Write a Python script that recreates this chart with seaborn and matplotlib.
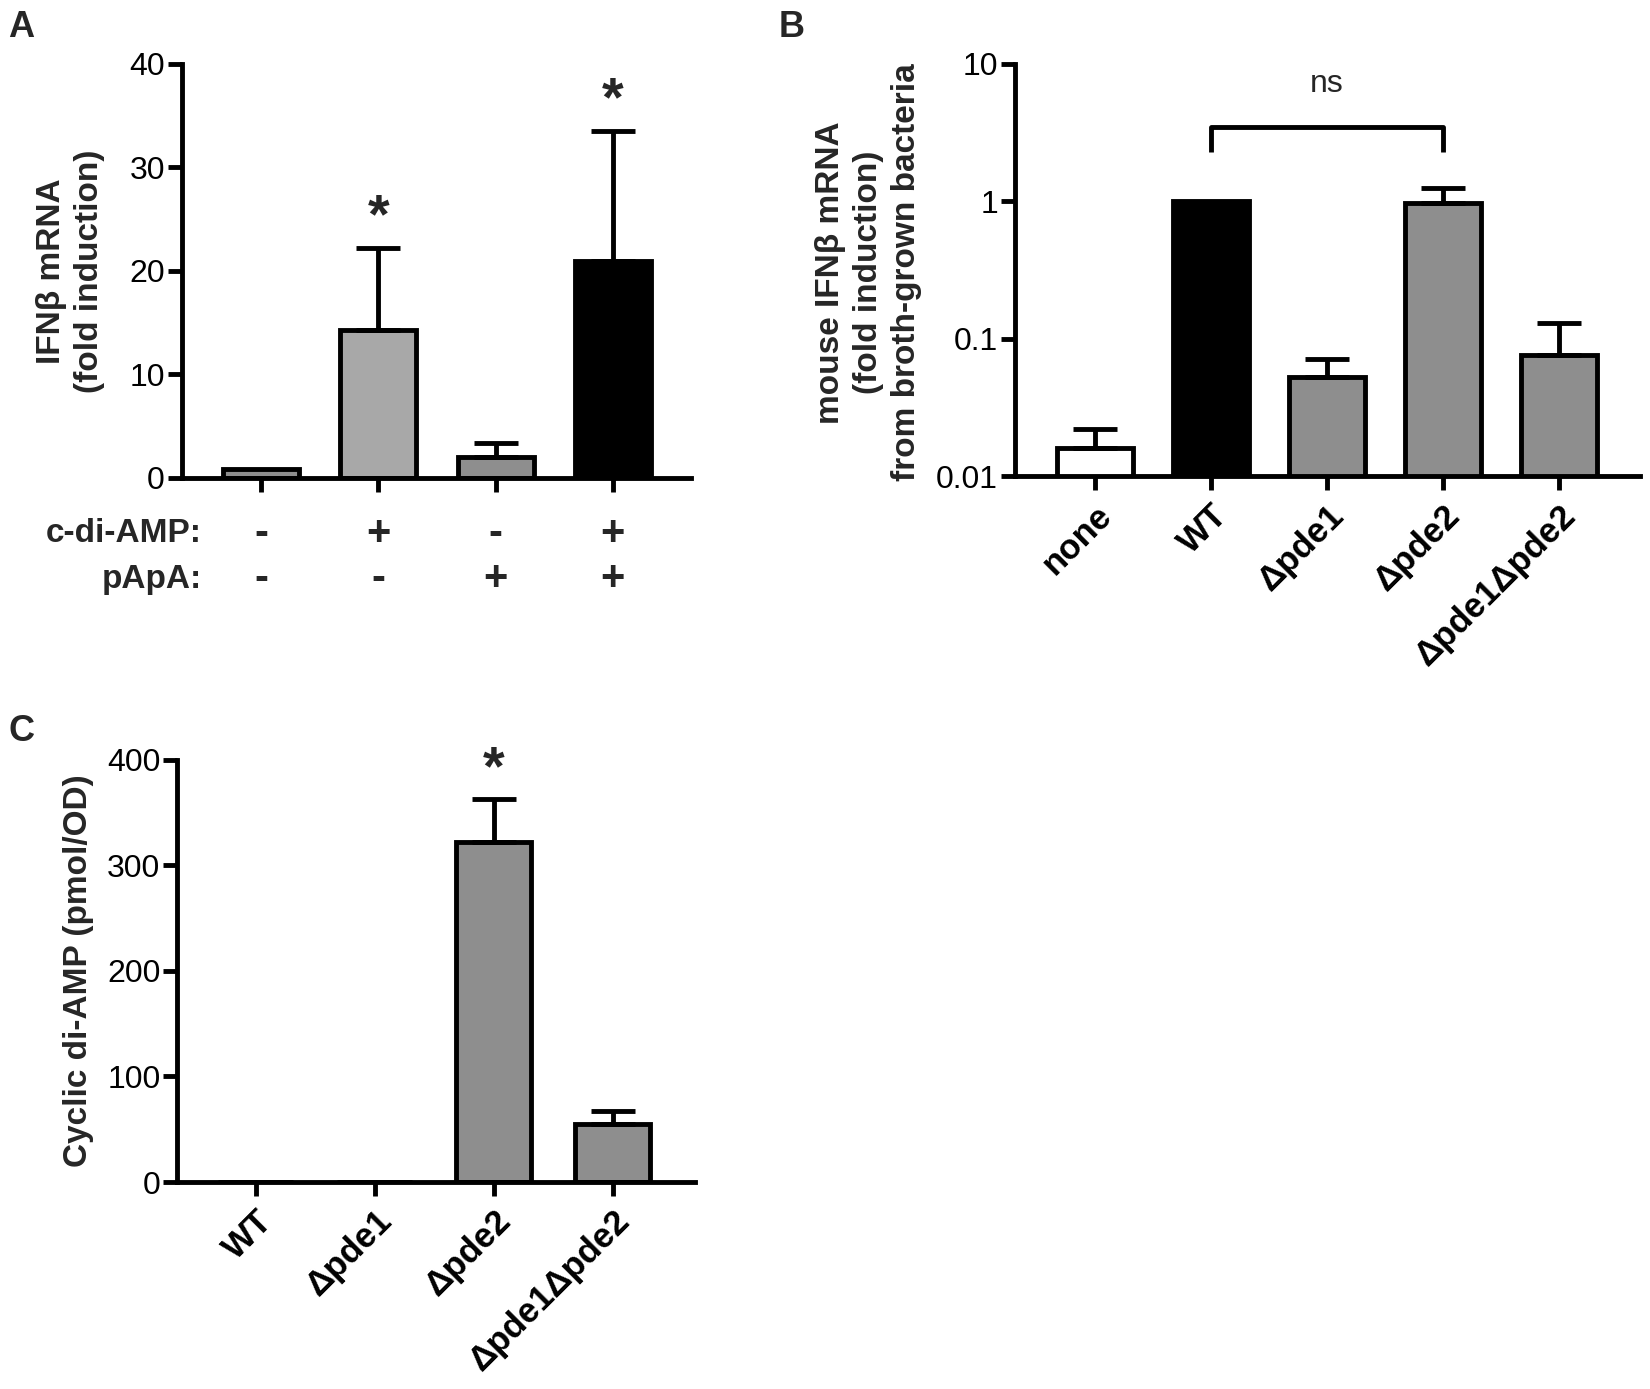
import numpy as np
import pandas as pd
import matplotlib
matplotlib.use("Agg")
import matplotlib.pyplot as plt
import matplotlib.transforms as mtransforms
import seaborn as sns

# ---------------- data ----------------
a_cats = ["g1", "g2", "g3", "g4"]
a_vals = [0.9, 14.3, 2.0, 21.0]
a_errs = [0.0, 7.9, 1.4, 12.5]
a_colors = ["#8e8e8e", "#a8a8a8", "#8e8e8e", "#000000"]
a_cdiamp = ["-", "+", "-", "+"]
a_papa = ["-", "-", "+", "+"]
a_star = [False, True, False, True]
a_yticks = [0, 10, 20, 30, 40]

b_cats = ["none", "WT", "Δpde1", "Δpde2", "Δpde1Δpde2"]
b_vals = [0.016, 1.0, 0.053, 0.98, 0.077]
b_errs = [0.006, 0.0, 0.018, 0.27, 0.053]
b_colors = ["#ffffff", "#000000", "#8e8e8e", "#8e8e8e", "#8e8e8e"]
b_yticks = [0.01, 0.1, 1, 10]
b_yticklabels = ["0.01", "0.1", "1", "10"]

c_cats = ["WT", "Δpde1", "Δpde2", "Δpde1Δpde2"]
c_vals = [0.0, 0.0, 322.0, 55.0]
c_errs = [0.0, 0.0, 41.0, 12.0]
c_colors = ["#8e8e8e", "#8e8e8e", "#8e8e8e", "#8e8e8e"]
c_star = [False, False, True, False]
c_yticks = [0, 100, 200, 300, 400]

# ---------------- style ----------------
sns.set_theme(style="ticks")
plt.rcParams["font.family"] = ["Liberation Sans", "DejaVu Sans"]
plt.rcParams["axes.linewidth"] = 3.5

LW = 3.5
FS_TICK = 23
FS_LAB = 24
FS_CAT = 25

fig = plt.figure(figsize=(16.5, 13.89), dpi=100)

def style_axes(ax):
    sns.despine(ax=ax)
    for s in ("left", "bottom"):
        ax.spines[s].set_linewidth(LW)
        ax.spines[s].set_color("black")
    ax.tick_params(axis="y", direction="out", length=10, width=LW, labelsize=FS_TICK,
                   pad=2, color="black", labelcolor="black")
    ax.tick_params(axis="x", direction="out", length=10, width=LW, labelsize=FS_TICK,
                   pad=6, color="black", labelcolor="black")
    ax.set_facecolor("white")

def draw_bars(ax, cats, vals, errs, colors, width):
    df = pd.DataFrame({"cat": cats, "val": vals})
    sns.barplot(data=df, x="cat", y="val", hue="cat", palette=colors, order=cats,
                hue_order=cats, width=width, edgecolor="black", linewidth=LW,
                legend=False, ax=ax, errorbar=None, saturation=1)
    pos = np.arange(len(cats))
    e = np.array(errs)
    mask = e > 0
    ax.errorbar(pos[mask], np.array(vals)[mask], yerr=[np.zeros(mask.sum()), e[mask]],
                fmt="none", ecolor="black", elinewidth=LW, capsize=16, capthick=LW, zorder=1)

# ---------------- Panel A ----------------
axA = fig.add_axes([0.110, 0.656, 0.309, 0.298])
style_axes(axA)
draw_bars(axA, a_cats, a_vals, a_errs, a_colors, 0.65)
axA.set_ylim(0, 40)
axA.set_yticks(a_yticks)
axA.set_xlim(-0.68, 3.67)
axA.set_xticks(range(len(a_cats)))
axA.set_xticklabels([""] * len(a_cats))
axA.set_xlabel("")
axA.set_ylabel("IFNβ mRNA\n(fold induction)", fontsize=FS_LAB, fontweight="bold",
               linespacing=1.3)
axA.yaxis.set_label_coords(-0.150, 0.50)
for i, (v, e, s) in enumerate(zip(a_vals, a_errs, a_star)):
    if s:
        axA.text(i, v + e + 0.4, "*", ha="center", va="bottom", fontsize=40,
                 fontweight="bold")
trA = mtransforms.blended_transform_factory(axA.transData, axA.transAxes)
for i, (c, p) in enumerate(zip(a_cdiamp, a_papa)):
    axA.text(i, -0.135, c, transform=trA, ha="center", va="center", fontsize=30,
             fontweight="bold")
    axA.text(i, -0.245, p, transform=trA, ha="center", va="center", fontsize=30,
             fontweight="bold")
axA.text(0.04, -0.135, "c-di-AMP:", transform=axA.transAxes, ha="right", va="center",
         fontsize=FS_LAB, fontweight="bold")
axA.text(0.04, -0.245, "pApA:", transform=axA.transAxes, ha="right", va="center",
         fontsize=FS_LAB, fontweight="bold")

# ---------------- Panel B ----------------
axB = fig.add_axes([0.615, 0.657, 0.379, 0.297])
axB.set_yscale("log")
style_axes(axB)
draw_bars(axB, b_cats, b_vals, b_errs, b_colors, 0.65)
axB.set_yscale("log")
axB.set_ylim(0.01, 10)
axB.set_yticks(b_yticks)
axB.set_yticklabels(b_yticklabels)
axB.minorticks_off()
axB.set_xlim(-0.69, 4.70)
axB.set_xticks(range(len(b_cats)))
axB.set_xticklabels(b_cats, rotation=45, ha="right", rotation_mode="anchor",
                    fontsize=FS_CAT, fontweight="bold")
axB.set_xlabel("")
axB.set_ylabel("mouse IFNβ mRNA\n(fold induction)\nfrom broth-grown bacteria",
               fontsize=FS_LAB, fontweight="bold", linespacing=1.3)
axB.yaxis.set_label_coords(-0.148, 0.495)
# ns bracket between WT and Δpde2
axB.plot([1, 1, 3, 3], [2.3, 3.5, 3.5, 2.3], color="black", lw=LW, clip_on=False,
         solid_capstyle="butt")
axB.text(2, 5.6, "ns", ha="center", va="bottom", fontsize=FS_TICK)

# ---------------- Panel C ----------------
axC = fig.add_axes([0.1073, 0.149, 0.314, 0.304])
style_axes(axC)
draw_bars(axC, c_cats, c_vals, c_errs, c_colors, 0.63)
axC.set_ylim(0, 400)
axC.set_yticks(c_yticks)
axC.set_xlim(-0.66, 3.69)
axC.set_xticks(range(len(c_cats)))
axC.set_xticklabels(c_cats, rotation=45, ha="right", rotation_mode="anchor",
                    fontsize=FS_CAT, fontweight="bold")
axC.set_xlabel("")
axC.set_ylabel("Cyclic di-AMP (pmol/OD)", fontsize=FS_LAB, fontweight="bold")
axC.yaxis.set_label_coords(-0.160, 0.50)
for i, (v, e, s) in enumerate(zip(c_vals, c_errs, c_star)):
    if s:
        axC.text(i, v + e + 2, "*", ha="center", va="bottom", fontsize=40,
                 fontweight="bold")

# panel letters
fig.text(0.005, 0.993, "A", fontsize=26, fontweight="bold", ha="left", va="top")
fig.text(0.472, 0.993, "B", fontsize=26, fontweight="bold", ha="left", va="top")
fig.text(0.005, 0.486, "C", fontsize=26, fontweight="bold", ha="left", va="top")

fig.savefig("out.png", dpi=100, facecolor="white")
